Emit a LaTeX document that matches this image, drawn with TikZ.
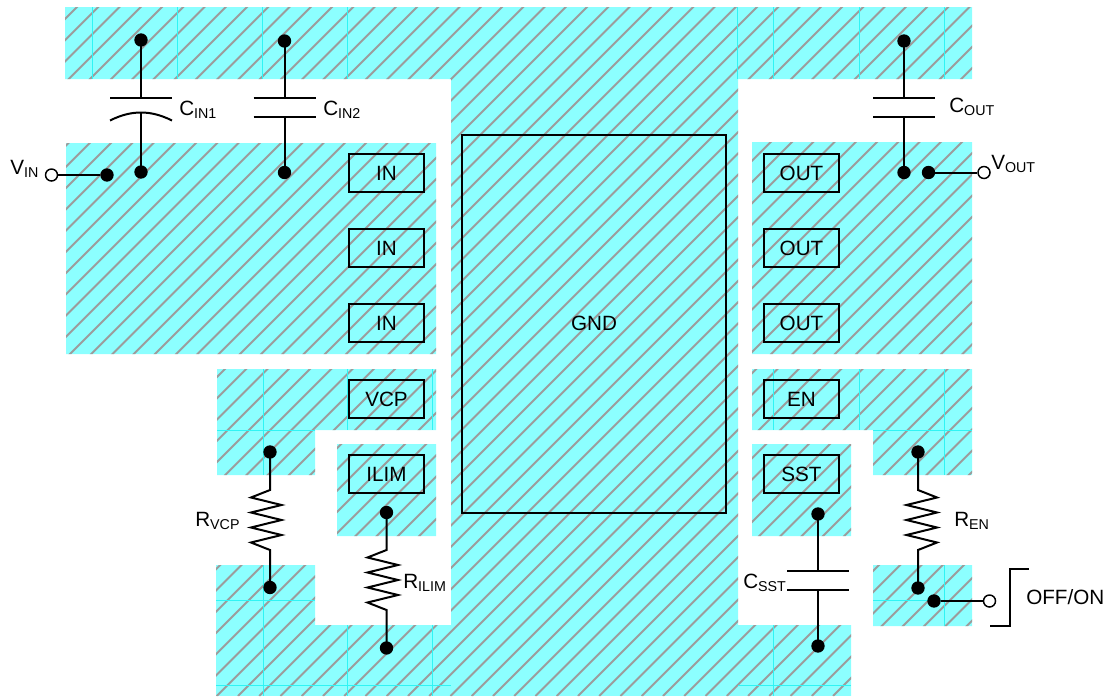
\documentclass[tikz,border=0pt]{standalone}
\usepackage{fontspec}
\setmainfont{Liberation Sans}
\definecolor{cu}{HTML}{8CFFFF}
\definecolor{hatchc}{HTML}{9C9C9C}
\definecolor{gridc}{HTML}{30F4F4}
\newcommand{\lab}[2]{#1\raisebox{-0.18em}{\fontsize{10.7pt}{12pt}\selectfont #2}}
\newcommand{\zs}{1}
\newcommand{\zig}[4]{\draw[wire] (#1.center) -- (#3,#4) -- ++(-19*\zs,7.5) -- ++(30.5*\zs,7.5) -- ++(-30.5*\zs,7.5) -- ++(30.5*\zs,7.5) -- ++(-30.5*\zs,7.5) -- ++(30.5*\zs,7.5) -- ++(-30.5*\zs,7.5) -- ++(19*\zs,7.5) -- (#2.center);}
\tikzset{
 x=0.75pt,y=-0.75pt,
 wire/.style={line width=1.5pt,black,line join=miter},
 plate/.style={line width=1.5pt,black},
 jdot/.style={circle,fill=black,draw=none,minimum size=10pt,inner sep=0pt},
 odot/.style={circle,fill=white,draw=black,line width=1.1pt,minimum size=9pt,inner sep=0pt},
 pinbox/.style={draw=black,line width=1.5pt,minimum width=56.25pt,minimum height=28.5pt,inner sep=0pt,font=\fontsize{15.5pt}{17pt}\selectfont},
 txt/.style={anchor=base west,inner sep=0pt,font=\fontsize{15.5pt}{17pt}\selectfont},
 gridl/.style={gridc,line width=0.4pt},
}
\begin{document}
\begin{tikzpicture}
\useasboundingbox (0,0) rectangle (1110,696);
% copper regions
\begin{scope}
\clip (65,7) rectangle (972,79)
 (451,7) rectangle (738,696)
 (66,143) rectangle (436,354)
 (752,142) rectangle (972,354)
 (217,369) rectangle (436,430)
 (217,430) rectangle (315,475)
 (337,444) rectangle (436,536)
 (216,565) rectangle (315,625)
 (216,625) rectangle (451,696)
 (738,625) rectangle (851,696)
 (752,369) rectangle (972,430)
 (873,430) rectangle (972,475)
 (752,444) rectangle (851,536)
 (873,565) rectangle (972,626);
\fill[cu] (0,0) rectangle (1110,696);
\foreach \c in {-697,-675.75,...,1120}
  \draw[hatchc,line width=1.4pt] (\c,696) -- ++(696,-696);
\end{scope}
% faint grid lines
\foreach \x in {92,177,262,347} \draw[gridl] (\x,7) -- (\x,79);
\foreach \x in {737,773,859,944} \draw[gridl] (\x,7) -- (\x,79);
\draw[gridl] (263,369) -- (263,475);
\draw[gridl] (347,369) -- (347,430);
\draw[gridl] (432,369) -- (432,430);
\draw[gridl] (217,430) -- (315,430);
\draw[gridl] (263,565) -- (263,696);
\draw[gridl] (347,625) -- (347,696);
\draw[gridl] (432,625) -- (432,696);
\draw[gridl] (216,600) -- (315,600);
\draw[gridl] (216,685) -- (451,685);
\draw[gridl] (773,369) -- (773,430);
\draw[gridl] (859,369) -- (859,430);
\draw[gridl] (944,369) -- (944,475);
\draw[gridl] (873,430) -- (972,430);
\draw[gridl] (773,625) -- (773,696);
\draw[gridl] (738,685) -- (851,685);
\draw[gridl] (944,565) -- (944,626);
\draw[gridl] (873,600) -- (972,600);
% pins
\node[pinbox] (in1) at (386.5,173) {IN};
\node[pinbox] (in2) at (386.5,248) {IN};
\node[pinbox] (in3) at (386.5,323) {IN};
\node[pinbox] (vcp) at (386.5,399) {VCP};
\node[pinbox] (ilim) at (386.5,474) {ILIM};
\node[pinbox] (out1) at (801.5,173) {OUT};
\node[pinbox] (out2) at (801.5,248) {OUT};
\node[pinbox] (out3) at (801.5,323) {OUT};
\node[pinbox] (en) at (801.5,399) {EN};
\node[pinbox] (sst) at (801.5,474) {SST};
\node[pinbox,minimum width=198pt,minimum height=283.5pt] (gnd) at (594,324) {};
\node[inner sep=0pt,font=\fontsize{15.5pt}{17pt}\selectfont] (gndt) at (594,323) {GND};
% dots
\node[jdot] (d1) at (141,40) {};
\node[jdot] (d2) at (141,172) {};
\node[jdot] (d3) at (107,175) {};
\node[jdot] (d4) at (284.5,41) {};
\node[jdot] (d5) at (284.5,172.5) {};
\node[jdot] (d6) at (904,41) {};
\node[jdot] (d7) at (904,172.5) {};
\node[jdot] (d8) at (928.5,172.5) {};
\node[jdot] (d9) at (270,452) {};
\node[jdot] (d10) at (270,587.5) {};
\node[jdot] (d11) at (386.5,512.5) {};
\node[jdot] (d12) at (386.5,648) {};
\node[jdot] (d13) at (818,514) {};
\node[jdot] (d14) at (818,646) {};
\node[jdot] (d15) at (918,452) {};
\node[jdot] (d16) at (918,588) {};
\node[jdot] (d17) at (934,601) {};
\node[odot] (vin) at (51.5,175) {};
\node[odot] (vout) at (984,172.5) {};
\node[odot] (onoff) at (989.5,601) {};
% capacitors
\coordinate (c1t) at (141,97.5); \coordinate (c1b) at (141,112.5);
\coordinate (c2t) at (284.5,97.5); \coordinate (c2b) at (284.5,116.5);
\coordinate (c3t) at (904,97.5); \coordinate (c3b) at (904,116.5);
\coordinate (c4t) at (818,571); \coordinate (c4b) at (818,590);
\draw[wire] (d1.center) -- (c1t);
\draw[wire] (d2.center) -- (c1b);
\draw[plate] (110,97.5) -- (172,97.5);
\draw[plate] (110,120.5) .. controls (122,114.5) and (132,112.5) .. (c1b) .. controls (150,112.5) and (160,114.5) .. (172,120.5);
\draw[wire] (d4.center) -- (c2t);
\draw[wire] (d5.center) -- (c2b);
\draw[plate] (253.5,97.5) -- (315.5,97.5);
\draw[plate] (253.5,116.5) -- (315.5,116.5);
\draw[wire] (d6.center) -- (c3t);
\draw[wire] (d7.center) -- (c3b);
\draw[plate] (873,97.5) -- (934.5,97.5);
\draw[plate] (873,116.5) -- (934.5,116.5);
\draw[wire] (d13.center) -- (c4t);
\draw[wire] (d14.center) -- (c4b);
\draw[plate] (787,571) -- (848.5,571);
\draw[plate] (787,590) -- (848.5,590);
% resistors
\zig{d9}{d10}{270}{490}
\zig{d11}{d12}{386.5}{550}
\renewcommand{\zs}{-1}
\zig{d15}{d16}{918}{490}
% signal stubs
\draw[wire] (vin) -- (d3);
\draw[wire] (d8) -- (vout);
\draw[wire] (d17) -- (onoff);
\coordinate (st0) at (990,626); \coordinate (st1) at (1029,569);
\draw[wire] (st0) -- (1009.5,626) -- (1009.5,569) -- (st1);
% labels
\node[txt] (lvin) at (10,174) {\lab{V}{IN}};
\node[txt] (lc1) at (179,115) {\lab{C}{IN1}};
\node[txt] (lc2) at (323,115) {\lab{C}{IN2}};
\node[txt] (lc3) at (949,112) {\lab{C}{OUT}};
\node[txt] (lvout) at (991,169) {\lab{V}{OUT}};
\node[txt] (lr1) at (195,526) {\lab{R}{VCP}};
\node[txt] (lr2) at (403,588) {\lab{R}{ILIM}};
\node[txt] (lr3) at (954,526) {\lab{R}{EN}};
\node[txt] (lc4) at (743,588) {\lab{C}{SST}};
\node[txt] (loo) at (1026,604) {OFF/ON};
\end{tikzpicture}
\end{document}
